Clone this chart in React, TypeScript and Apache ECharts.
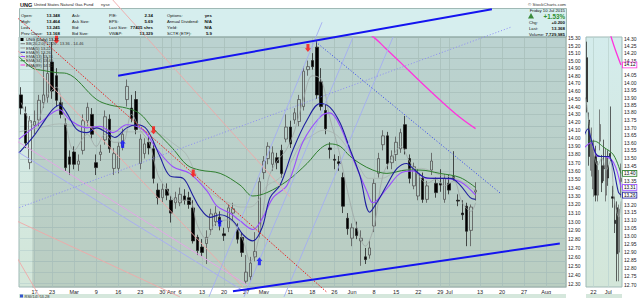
import React, { useEffect, useRef } from 'react';
import * as echarts from 'echarts';

// ---------------- data ----------------
const monthDays: [string, number[]][] = [
  ['Feb', [11, 12, 13, 17, 18, 19, 20, 23, 24, 25, 26, 27]],
  ['Mar', [2, 3, 4, 5, 6, 9, 10, 11, 12, 13, 16, 17, 18, 19, 20, 23, 24, 25, 26, 27, 30, 31]],
  ['Apr', [1, 2, 6, 7, 8, 9, 10, 13, 14, 15, 16, 17, 20, 21, 22, 23, 24, 27, 28, 29, 30]],
  ['May', [1, 4, 5, 6, 7, 8, 11, 12, 13, 14, 15, 18, 19, 20, 21, 22, 26, 27, 28, 29]],
  ['Jun', [1, 2, 3, 4, 5, 8, 9, 10, 11, 12, 15, 16, 17, 18, 19, 22, 23, 24, 25, 26, 29, 30]],
  ['Jul', [1, 2, 6, 7, 8, 9, 10, 13, 14, 15, 16, 17, 20, 21, 22, 23, 24, 27, 28, 29, 30, 31]],
  ['Aug', [3, 4, 5, 6, 7]],
];
const dates: string[] = monthDays.flatMap(([m, ds]) => ds.map((d) => `${m} ${d}`));

const dateTickText: Record<string, string> = {
  'Feb 17': '17', 'Feb 23': '23', 'Mar 2': 'Mar', 'Mar 9': '9', 'Mar 16': '16', 'Mar 23': '23',
  'Mar 30': '30', 'Apr 1': 'Apr', 'Apr 6': '6', 'Apr 13': '13', 'Apr 20': '20', 'Apr 27': '27',
  'May 1': 'May', 'May 11': '11', 'May 18': '18', 'May 26': '26', 'Jun 1': 'Jun', 'Jun 8': '8',
  'Jun 15': '15', 'Jun 22': '22', 'Jun 29': '29', 'Jul 1': 'Jul', 'Jul 13': '13', 'Jul 20': '20',
  'Jul 27': '27', 'Aug 3': 'Aug',
};
const zoomTickText: Record<string, string> = { 'Jun 22': '22', 'Jul 1': 'Jul' };

const openP = [
  14.55, 14.31, 13.70, 14.16, 14.23, 14.45, 14.52, 14.98, 14.80, 14.45, 14.18, 13.77, 13.83, 13.68, 13.85, 14.22, 14.30, 13.70, 13.80, 13.98,
  14.24, 13.63, 13.63, 13.90, 14.49, 14.38, 14.49, 13.69, 13.81, 13.95, 13.87, 13.37, 13.28, 13.38, 13.25, 13.22, 13.22, 13.30, 13.28, 13.16,
  12.82, 12.71, 12.75, 12.91, 13.00, 13.05, 12.86, 12.93, 13.10, 12.91, 12.82, 12.33, 12.38, 12.60, 12.88, 13.58, 13.75, 13.68, 13.76, 13.85,
  13.99, 14.14, 14.23, 14.21, 14.40, 14.88, 15.00, 15.18, 14.72, 14.35, 13.88, 13.74, 13.71, 13.52, 13.04, 12.81, 12.92, 12.78, 12.60, 12.62,
  12.95, 13.57, 13.92, 14.03, 13.70, 13.80, 13.87, 14.17, 13.75, 13.42, 13.30, 13.51, 13.26, 13.61, 13.45, 13.45, 13.26, 13.45, 13.53, 13.25,
  13.10, 13.18, 12.90, 13.348,
];
const highP = [
  14.65, 14.40, 14.28, 14.35, 14.55, 15.10, 15.05, 15.25, 14.90, 14.52, 14.25, 13.85, 13.90, 13.80, 14.30, 14.45, 14.38, 13.80, 13.92, 14.35,
  14.30, 13.88, 13.95, 14.12, 14.75, 14.55, 14.60, 14.05, 14.00, 14.02, 13.95, 13.45, 13.45, 13.45, 13.30, 13.35, 13.40, 13.38, 13.35, 13.25,
  12.85, 12.80, 12.90, 13.15, 13.18, 13.12, 12.93, 13.20, 13.22, 12.98, 12.88, 12.62, 12.60, 12.88, 13.52, 13.78, 13.95, 13.90, 13.82, 13.92,
  14.30, 14.22, 14.38, 14.55, 14.92, 15.00, 15.10, 15.26, 14.90, 14.42, 13.95, 13.80, 13.78, 13.58, 13.10, 12.98, 13.00, 12.90, 12.70, 12.78,
  13.50, 13.82, 14.10, 14.08, 13.85, 14.02, 14.12, 14.28, 13.80, 13.70, 13.62, 13.58, 13.48, 13.82, 13.52, 13.62, 13.56, 13.55, 13.84, 13.32,
  13.25, 13.22, 13.20, 13.464,
];
const lowP = [
  14.30, 13.88, 13.62, 14.05, 14.15, 14.38, 14.45, 14.50, 14.40, 14.25, 13.60, 13.55, 13.62, 13.60, 13.80, 14.15, 14.00, 13.55, 13.72, 13.92,
  13.82, 13.55, 13.57, 13.85, 14.40, 14.20, 14.05, 13.62, 13.75, 13.80, 13.45, 13.20, 13.22, 13.25, 12.99, 13.15, 13.18, 13.20, 13.15, 12.75,
  12.62, 12.60, 12.52, 12.85, 12.95, 12.90, 12.78, 12.88, 13.02, 12.75, 12.60, 12.30, 12.34, 12.55, 12.82, 13.50, 13.68, 13.60, 13.62, 13.52,
  13.95, 13.88, 14.18, 14.15, 14.35, 14.80, 14.88, 14.50, 14.35, 14.05, 13.75, 13.62, 13.60, 13.10, 12.85, 12.72, 12.80, 12.50, 12.52, 12.58,
  12.88, 13.52, 13.85, 13.62, 13.62, 13.72, 13.82, 13.80, 13.45, 13.38, 13.25, 13.22, 13.22, 13.55, 13.28, 13.35, 13.22, 13.32, 13.48, 13.18,
  13.02, 12.72, 12.72, 13.245,
];
const closeP = [
  14.38, 13.94, 14.22, 14.21, 14.48, 14.55, 14.83, 14.60, 14.48, 14.30, 13.64, 13.68, 13.68, 13.72, 14.22, 14.39, 14.05, 13.64, 13.83, 14.27,
  13.87, 13.81, 13.90, 14.05, 14.66, 14.25, 14.11, 13.99, 13.93, 13.88, 13.51, 13.28, 13.38, 13.31, 13.10, 13.28, 13.32, 13.25, 13.20, 12.78,
  12.67, 12.65, 12.82, 13.09, 13.10, 12.98, 12.84, 13.16, 13.15, 12.80, 12.65, 12.43, 12.53, 12.66, 13.47, 13.72, 13.90, 13.82, 13.70, 13.57,
  14.14, 13.93, 14.32, 14.49, 14.86, 14.92, 14.92, 14.55, 14.40, 14.12, 13.86, 13.73, 13.69, 13.18, 12.92, 12.93, 12.84, 12.81, 12.57, 12.70,
  13.45, 13.75, 14.03, 13.69, 13.78, 13.95, 14.07, 13.87, 13.51, 13.65, 13.57, 13.26, 13.42, 13.72, 13.34, 13.43, 13.51, 13.37, 13.51, 13.24,
  13.08, 12.89, 13.17, 13.368,
];

const priceTicks = [
  12.3, 12.4, 12.5, 12.6, 12.7, 12.8, 12.9, 13.0, 13.1, 13.2, 13.3, 13.4, 13.5, 13.6, 13.7, 13.8,
  13.9, 14.0, 14.1, 14.2, 14.3, 14.4, 14.5, 14.6, 14.7, 14.8, 14.9, 15.0, 15.1, 15.2, 15.3,
];
// zoom-panel tick labels (values hidden behind the end-value boxes are left out, as in the original)
const zoomTicks = [
  12.7, 12.75, 12.8, 12.85, 12.9, 12.95, 13.0, 13.05, 13.1, 13.15, 13.2, 13.35, 13.45, 13.5,
  13.55, 13.6, 13.65, 13.7, 13.75, 13.8, 13.85, 13.9, 13.95, 14.0, 14.05, 14.15, 14.2, 14.25, 14.3,
];

// Bollinger band (20,2) read at these day positions
const bandIdx = [-0.5, 4, 8.7, 12, 15.5, 20, 23.5, 27, 31.4, 34.6, 37.3, 39.2, 41, 43, 45, 47.5, 49.6, 51.9, 53.5, 55.7, 58.5, 61, 63.5, 65.8, 68.5, 71, 73.3, 75, 76.8, 78.7, 81.7, 84.6, 87.8, 90.7, 95, 98, 100.6, 103];
const bbUpper = [15.55, 15.58, 15.62, 15.60, 15.56, 15.52, 15.48, 15.43, 15.32, 15.14, 15.06, 14.78, 14.55, 14.45, 14.37, 14.27, 14.17, 14.08, 14.05, 14.26, 14.33, 14.61, 15.05, 15.18, 15.21, 15.14, 15.00, 14.88, 14.76, 14.61, 14.63, 14.68, 14.72, 14.74, 14.63, 14.63, 14.56, 14.46];
const bbLower = [12.61, 12.68, 12.73, 12.71, 12.73, 12.68, 12.68, 12.72, 12.77, 12.71, 12.56, 12.44, 12.33, 12.22, 12.16, 12.14, 12.16, 12.25, 12.40, 12.57, 12.68, 12.76, 12.83, 12.88, 12.98, 12.97, 12.85, 12.66, 12.49, 12.40, 12.39, 12.48, 12.51, 12.51, 12.46, 12.40, 12.33, 12.26];
const bbMid = [14.08, 14.13, 14.18, 14.16, 14.15, 14.10, 14.08, 14.08, 14.05, 13.93, 13.81, 13.61, 13.44, 13.34, 13.27, 13.21, 13.17, 13.17, 13.23, 13.42, 13.51, 13.69, 13.94, 14.03, 14.10, 14.06, 13.93, 13.77, 13.63, 13.51, 13.51, 13.58, 13.62, 13.63, 13.55, 13.52, 13.45, 13.36];

// moving averages read as [day position, price]
const ema5Line = [[0, 14.45], [3, 14.15], [6, 14.55], [8, 14.65], [10, 14.2], [12, 13.85], [15, 14.05], [17, 13.9], [19, 14.05], [21, 13.95], [23, 13.95], [25, 14.3], [27, 14.1], [29, 13.95], [31, 13.55], [33, 13.38], [35, 13.25], [38, 13.25], [40, 12.95], [42, 12.8], [44, 12.98], [47, 13.02], [50, 12.82], [52, 12.55], [54, 12.85], [56, 13.5], [58, 13.72], [60, 13.85], [62, 14.1], [64, 14.5], [66, 14.8], [68, 14.75], [70, 14.25], [72, 13.85], [74, 13.35], [76, 12.95], [78, 12.72], [80, 12.95], [82, 13.55], [84, 13.75], [86, 13.9], [88, 13.72], [90, 13.55], [92, 13.45], [94, 13.5], [96, 13.42], [98, 13.48], [100, 13.22], [102, 13.12], [103, 13.22]];
const ema9Line = [[-0.5, 13.82], [2.6, 14.01], [4.9, 14.19], [7.1, 14.36], [8.7, 14.42], [10.3, 14.32], [12.6, 14.11], [14.9, 14.07], [17.1, 14.13], [19.4, 14.07], [21.2, 14.01], [23.9, 14.13], [26.2, 14.17], [28.5, 14.11], [31.4, 13.78], [33.7, 13.54], [36.7, 13.51], [38.9, 13.31], [40.5, 13.16], [42.8, 13.05], [45.1, 13.08], [48, 13.01], [50.3, 12.85], [52.5, 12.78], [54.6, 12.93], [56.4, 13.28], [58.7, 13.43], [61.7, 13.87], [64.8, 14.23], [67.8, 14.44], [70, 14.39], [72.3, 14.19], [74.5, 13.87], [76.8, 13.54], [79, 13.11], [80.6, 13.22], [82.9, 13.43], [85.2, 13.63], [87.4, 13.69], [88.8, 13.63], [91.1, 13.53], [93.4, 13.51], [95, 13.51], [97.3, 13.51], [99.5, 13.43], [101.8, 13.28], [103, 13.26]];
const ema13Line = [[-0.5, 13.99], [4.2, 14.19], [8.7, 14.36], [11, 14.23], [14.9, 14.13], [17.8, 14.15], [20.8, 14.07], [23.9, 14.17], [27.5, 14.11], [30.7, 13.87], [34.4, 13.65], [38.2, 13.57], [42.1, 13.36], [44.4, 13.18], [47.3, 13.1], [49.6, 13.01], [52.5, 12.91], [54.8, 13.05], [57.1, 13.28], [60.3, 13.43], [63.9, 13.96], [67.8, 14.27], [70, 14.32], [72.3, 14.15], [75.2, 13.75], [78.4, 13.35], [79.7, 13.22], [82.9, 13.39], [85.9, 13.57], [88.8, 13.6], [92, 13.51], [95, 13.51], [99.5, 13.47], [103, 13.31]];
const ema34Line = [[-0.5, 15.05], [2.6, 14.9], [4.9, 14.87], [8.1, 14.84], [10.3, 14.83], [17.1, 14.49], [20.1, 14.42], [23.9, 14.38], [26.9, 14.31], [29.8, 14.13], [34.4, 13.87], [37.6, 13.67], [40.5, 13.61], [45.1, 13.57], [49.6, 13.43], [52.5, 13.3], [55.7, 13.34], [60.3, 13.48], [64.8, 13.69], [67.8, 13.87], [70, 13.93], [72.3, 13.9], [74.5, 13.78], [76.8, 13.69], [79.7, 13.61], [82.9, 13.57], [87.4, 13.61], [90.4, 13.61], [94.9, 13.57], [99.5, 13.52], [103, 13.4]];
const ema89Line = [[55, 16.4], [65, 15.95], [72.3, 15.62], [79.8, 15.32], [82.5, 15.17], [85.9, 14.98], [90.5, 14.72], [95, 14.48], [99.5, 14.26], [103, 14.12]];

// annotations (trend lines) as [day position, price] end points
const channelUpper = [[21.97, 14.8], [106.7, 15.7]];
const channelLower = [[48.0, 12.22], [122.1, 12.75]];
const redDotted = [[-4.88, 15.8], [69.3, 12.21]];
const lightBlueDotted = [[-4.88, 13.08], [110.9, 15.45]];
const blueDotted = [[66.8, 15.25], [108.7, 13.33]];
const lavenderLine = [[-4.88, 14.1], [51.2, 12.29]];
const paleBlueLine = [[-4.88, 13.97], [51.2, 12.2]];
const fanLines = [
  [[42.56, 12.16], [68.2, 15.52]],
  [[50.5, 12.16], [75.24, 15.318]],
  [[59.58, 12.16], [84.3, 15.318]],
];
const salmonLines = [
  [[-4.88, 15.39], [50.3, 12.267]],
  [[20.77, 15.83], [60.94, 13.29]],
  [[-4.88, 13.1], [35.97, 12.16]],
  [[-4.88, 12.93], [4.2, 12.16]],
];

const sellSignals = [[8, 15.28], [30, 14.1], [39, 13.57], [65, 15.17]];
const buySignals = [[23, 13.93], [45, 12.99], [54, 12.55]];

const quoteLeft = [
  ['Open:', '13.348', 'Ask:', 'P/E:', '2.34', 'Options:', 'yes'],
  ['High:', '13.464', 'Ask Size:', 'EPS:', '5.69', 'Annual Dividend:', 'N/A'],
  ['Low:', '13.245', 'Bid:', 'Last Size:', '77435 shrs', 'Yield:', 'N/A'],
  ['Prev Close:', '13.168', 'Bid Size:', 'VWAP:', '13.329', 'SCTR (ETF):', '5.9'],
];
const quoteRight = [['Chg:', '+0.200'], ['Last:', '13.368'], ['Volume:', '7,729,985']];
const legendRows = [
  ['UNG (Daily) 13.37', '#000'],
  ['BB(20,2.0) 12.26 - 13.36 - 14.46', '#777'],
  ['EMA(5) 13.22', '#999'],
  ['EMA(9) 13.26', '#1f1f9f'],
  ['EMA(13) 13.31', '#9a4dff'],
  ['EMA(34) 13.40', '#2f7f2f'],
  ['EMA(89) 14.12', '#ff33dd'],
];

// ---------------- chart ----------------
const F = 'Liberation Sans, Arial, sans-serif';
const L = (p: number) => Math.log(p);

function buildOption() {
  const candles = openP.map((o, i) => [L(o), L(closeP[i]), L(lowP[i]), L(highP[i])]);
  const toLn = (arr: number[][]) => arr.map(([x, p]) => [x, L(p)]);
  const tail = (arr: number[][]) => arr.filter(([x]) => x >= 84);
  const bandLow = bandIdx.map((x, i) => [x, L(bbLower[i])]);
  const bandDiff = bandIdx.map((x, i) => [x, L(bbUpper[i]) - L(bbLower[i])]);
  const bandMid = bandIdx.map((x, i) => [x, L(bbMid[i])]);

  const bg = () =>
    new echarts.graphic.LinearGradient(0, 0, 0, 1, [
      { offset: 0, color: '#d4ecec' },
      { offset: 1, color: '#d3e6d9' },
    ]);

  const gridLineIdx = Object.keys(dateTickText).map((d) => dates.indexOf(d));

  const line = (data: number[][], color: string, width: number, xi: number, yi: number, extra: any = {}) => ({
    type: 'line', data, xAxisIndex: xi, yAxisIndex: yi, symbol: 'none', smooth: 0.35, silent: true,
    lineStyle: { color, width }, z: 3, ...extra,
  });
  const trend = (data: number[][], color: string, width: number, type: any = 'solid') => ({
    type: 'line', data: toLn(data), xAxisIndex: 1, yAxisIndex: 0, symbol: 'none', clip: false, silent: true,
    lineStyle: { color, width, type }, z: 5,
  });
  const endLbl = (color: string) => ({
    show: true, formatter: (p: any) => Math.exp(p.value[1]).toFixed(2), fontSize: 4.6, fontFamily: F,
    color: '#000', backgroundColor: '#fff', borderColor: color, borderWidth: 0.8, padding: [0, 1], distance: 2,
  });

  const downArrow = 'path://M2,0L6,0L6,5L8,5L4,9L0,5L2,5Z';
  const upArrow = 'path://M4,0L8,4L6,4L6,9L2,9L2,4L0,4Z';

  const xCat = (gridIndex: number, data: string[], texts: Record<string, string>) => ({
    type: 'category', gridIndex, data, boundaryGap: true,
    axisLine: { show: false }, axisTick: { show: false }, splitLine: { show: false },
    axisLabel: {
      interval: (_i: number, v: string) => v in texts, formatter: (v: string) => texts[v] || '',
      fontSize: 5.5, fontFamily: F, color: '#222', margin: 2,
    },
  });
  const yLn = (gridIndex: number, min: number, max: number, ticks: number[]) => ({
    type: 'value', gridIndex, min: L(min), max: L(max), position: 'right', scale: true,
    axisLine: { show: false }, axisTick: { show: false }, splitLine: { show: false },
    axisLabel: {
      customValues: ticks.map(L), formatter: (v: number) => Math.exp(v).toFixed(2),
      fontSize: 5, fontFamily: F, color: '#222', margin: 2,
    },
  });

  const graphics: any[] = [];
  const T = (x: number, y: number, text: string, o: any = {}) =>
    graphics.push({
      type: 'text', x, y, z: 20, silent: true,
      style: { text, fontSize: 4.2, fontFamily: F, fill: '#111', textVerticalAlign: 'middle', verticalAlign: 'middle', ...o },
    });
  const R = { textAlign: 'right', align: 'right' };

  // title
  T(20, 4.5, 'UNG', { fontWeight: 'bold', fontSize: 5.6 });
  T(34, 4.5, 'United States Natural Gas Fund', { fontSize: 4.2, fill: '#222' });
  T(101, 4.5, 'nyse', { fontSize: 4.2, fill: '#333' });
  T(566, 4.5, '© StockCharts.com', { ...R, fontSize: 4.4, fill: '#333' });
  // quote panel
  graphics.push({ type: 'rect', z: 1, silent: true, shape: { x: 19.5, y: 8.5, width: 547, height: 28.5 }, style: { fill: '#d6eeee', stroke: '#9fb9b5', lineWidth: 1 } });
  const rowY = [15, 21.3, 27.6, 33.9];
  quoteLeft.forEach((r, i) => {
    const y = rowY[i];
    T(21, y, r[0]);
    T(60, y, r[1], { ...R, fontWeight: 'bold', fontSize: 4.4 });
    T(72, y, r[2]);
    T(109, y, r[3]);
    T(153, y, r[4], { ...R, fontWeight: 'bold', fontSize: 4.4 });
    T(167, y, r[5]);
    T(212, y, r[6], { ...R, fontWeight: 'bold', fontSize: 4.4 });
  });
  T(565, 10.3, 'Friday 10 Jul 2015', { ...R, fontSize: 4.3 });
  graphics.push({ type: 'polygon', z: 20, silent: true, shape: { points: [[531, 13], [534, 18.5], [528, 18.5]] }, style: { fill: '#3a8a3a' } });
  T(565, 16.2, '+1.53%', { ...R, fontWeight: 'bold', fontSize: 6.3, fill: '#2f8f2f' });
  quoteRight.forEach((r, i) => {
    const y = 22.5 + i * 6;
    T(529, y, r[0]);
    T(565, y, r[1], { ...R, fontWeight: 'bold', fontSize: 4.4 });
  });
  // legend inside plot
  legendRows.forEach((r, i) => {
    const y = 39.5 + i * 4.25;
    if (i === 0) graphics.push({ type: 'rect', z: 20, silent: true, shape: { x: 20.5, y: y - 1.5, width: 3, height: 3 }, style: { fill: '#000' } });
    else graphics.push({ type: 'line', z: 20, silent: true, shape: { x1: 20.5, y1: y, x2: 25, y2: y }, style: { stroke: r[1], lineWidth: 1 } });
    T(26, y, r[0], { fontSize: 4, fill: i === 0 ? '#000' : '#333' });
  });
  // bottom strips
  graphics.push({ type: 'rect', z: 1, silent: true, shape: { x: 19, y: 294, width: 547, height: 4 }, style: { fill: '#d5e7dc' } });
  graphics.push({ type: 'rect', z: 1, silent: true, shape: { x: 586, y: 294, width: 36, height: 4 }, style: { fill: '#d5e7dc' } });
  graphics.push({ type: 'rect', z: 20, silent: true, shape: { x: 20, y: 294.5, width: 3, height: 3 }, style: { fill: '#3355cc' } });
  T(24.5, 296.5, 'RSI(14) 53.28', { fontSize: 4, fill: '#333' });

  return {
    animation: false,
    backgroundColor: '#fff',
    grid: [
      { left: 19, top: 37, width: 547, height: 250, show: true, backgroundColor: bg(), borderColor: '#9fb9b5', borderWidth: 1 },
      { left: 586, top: 37, width: 36, height: 250, show: true, backgroundColor: bg(), borderColor: '#9fb9b5', borderWidth: 1 },
    ],
    xAxis: [
      xCat(0, dates, dateTickText),
      { type: 'value', gridIndex: 0, min: -0.5, max: 123.5, show: false },
      xCat(1, dates.slice(87, 104), zoomTickText),
      { type: 'value', gridIndex: 1, min: 86.5, max: 103.5, show: false },
    ],
    yAxis: [yLn(0, 12.267, 15.318, priceTicks), yLn(1, 12.685, 14.312, zoomTicks)],
    graphic: { elements: graphics },
    series: [
      // grid lines
      {
        type: 'line', xAxisIndex: 1, yAxisIndex: 0, data: [], silent: true, z: 0.5,
        markLine: {
          silent: true, z: 0.5, symbol: ['none', 'none'], label: { show: false }, animation: false,
          lineStyle: { color: '#bcd4d0', width: 0.8, type: 'solid' },
          data: [...priceTicks.map((p) => ({ yAxis: L(p) })), ...gridLineIdx.map((i) => ({ xAxis: i }))],
        },
      },
      {
        type: 'line', xAxisIndex: 3, yAxisIndex: 1, data: [], silent: true, z: 0.5,
        markLine: {
          silent: true, z: 0.5, symbol: ['none', 'none'], label: { show: false }, animation: false,
          lineStyle: { color: '#bcd4d0', width: 0.8, type: 'solid' },
          data: [{ xAxis: 90 }, { xAxis: 97 }],
        },
      },
      // Bollinger band fill
      { type: 'line', xAxisIndex: 1, yAxisIndex: 0, data: bandLow, stack: 'bb', symbol: 'none', smooth: 0.35, silent: true, lineStyle: { opacity: 0 }, z: 1 },
      { type: 'line', xAxisIndex: 1, yAxisIndex: 0, data: bandDiff, stack: 'bb', symbol: 'none', smooth: 0.35, silent: true, lineStyle: { opacity: 0 }, areaStyle: { color: 'rgba(90,110,100,0.2)', opacity: 1 }, z: 1 },
      { type: 'line', xAxisIndex: 3, yAxisIndex: 1, data: tail(bandLow.map((d) => d.slice())), stack: 'bb2', symbol: 'none', smooth: 0.35, silent: true, lineStyle: { opacity: 0 }, z: 1 },
      { type: 'line', xAxisIndex: 3, yAxisIndex: 1, data: tail(bandDiff.map((d) => d.slice())), stack: 'bb2', symbol: 'none', smooth: 0.35, silent: true, lineStyle: { opacity: 0 }, areaStyle: { color: 'rgba(90,110,100,0.2)', opacity: 1 }, z: 1 },
      // candles
      {
        type: 'candlestick', xAxisIndex: 0, yAxisIndex: 0, data: candles, barWidth: 3, silent: true, z: 2,
        itemStyle: { color: 'rgba(255,255,255,0)', color0: '#000', borderColor: '#555', borderColor0: '#222', borderWidth: 0.8 },
      },
      {
        type: 'candlestick', xAxisIndex: 2, yAxisIndex: 1, data: candles.slice(87, 104), barWidth: 1.6, silent: true, z: 2,
        itemStyle: { color: 'rgba(255,255,255,0)', color0: '#000', borderColor: '#555', borderColor0: '#222', borderWidth: 0.7 },
      },
      // moving averages (main)
      line(bandMid, '#aab5b1', 0.8, 1, 0),
      line(toLn(ema5Line), '#9ea6a4', 0.8, 1, 0),
      line(toLn(ema34Line), '#2f7f2f', 1, 1, 0),
      line(toLn(ema13Line), '#9a4dff', 1.1, 1, 0),
      line(toLn(ema9Line), '#1f1f9f', 1.1, 1, 0),
      line(toLn(ema89Line), '#ff33dd', 1.3, 1, 0),
      // moving averages (zoom panel)
      line(tail(toLn(ema5Line)), '#9ea6a4', 0.8, 3, 1),
      line(tail(toLn(ema34Line)), '#2f7f2f', 1, 3, 1, { endLabel: endLbl('#2f7f2f') }),
      line(tail(toLn(ema13Line)), '#9a4dff', 1.1, 3, 1, { endLabel: endLbl('#9a4dff') }),
      line(tail(toLn(ema9Line)), '#1f1f9f', 1.1, 3, 1, { endLabel: endLbl('#1f1f9f') }),
      line(tail(toLn(ema89Line)), '#ff33dd', 1.3, 3, 1, { endLabel: endLbl('#ff33dd') }),
      // trend lines
      ...salmonLines.map((s) => trend(s, '#f0a8a8', 0.9)),
      trend(lavenderLine, '#e2a6e6', 1),
      trend(paleBlueLine, '#a9aef0', 1),
      ...fanLines.map((s) => trend(s, '#a4aef2', 0.9)),
      trend(lightBlueDotted, '#8c8cf5', 1, [1, 2]),
      trend(redDotted, '#e82020', 1, [1.5, 1.5]),
      trend(blueDotted, '#3040f0', 1, [1, 2]),
      trend(channelUpper, '#1414f0', 2),
      trend(channelLower, '#1414f0', 2),
      // signals
      {
        type: 'scatter', xAxisIndex: 1, yAxisIndex: 0, data: toLn(sellSignals), symbol: downArrow, symbolSize: [6, 8],
        itemStyle: { color: '#ff1010' }, silent: true, z: 6,
      },
      {
        type: 'scatter', xAxisIndex: 1, yAxisIndex: 0, data: toLn(buySignals), symbol: upArrow, symbolSize: [6, 8],
        itemStyle: { color: '#1010ff' }, silent: true, z: 6,
      },
    ],
  };
}

export default function App() {
  const ref = useRef<HTMLDivElement>(null);
  useEffect(() => {
    const chart = echarts.init(ref.current!, null, { renderer: 'svg' });
    chart.setOption(buildOption() as any);
    return () => chart.dispose();
  }, []);
  return <div ref={ref} style={{ position: 'fixed', left: 0, top: 0, width: 640, height: 298, background: '#fff' }} />;
}
